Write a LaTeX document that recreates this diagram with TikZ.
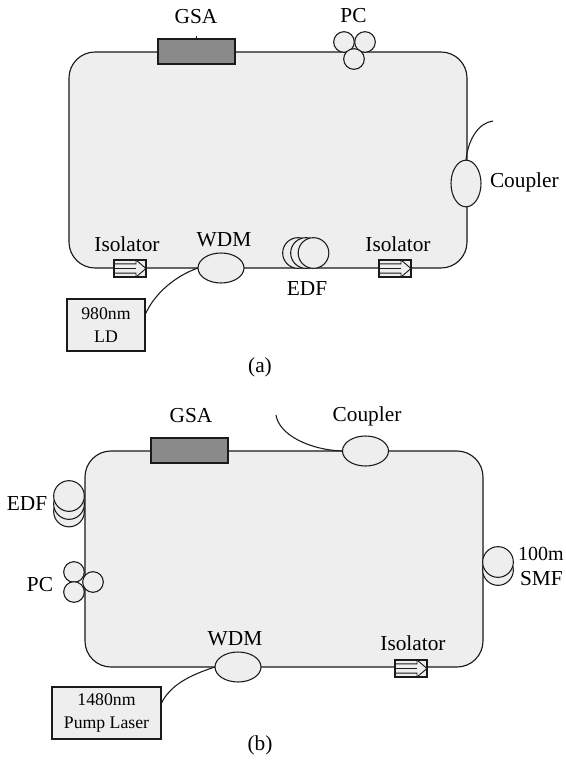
\documentclass[tikz,border=0pt]{standalone}
\usepackage{fontspec}
\usetikzlibrary{shapes.geometric}
\setmainfont{Liberation Serif}
\definecolor{panel}{HTML}{EEEEEE}
\definecolor{absorb}{HTML}{8A8A8A}
\definecolor{ink}{HTML}{1A1A1A}
\tikzset{
  every node/.style={inner sep=0pt,outer sep=0pt},
  loopline/.style={draw=ink,fill=panel,line width=0.85pt,rounded corners=19.5pt},
  fibre/.style={draw=ink,line width=0.8pt},
  oval/.style={ellipse,draw=ink,fill=panel,line width=0.8pt,minimum width=34.5pt,minimum height=22.5pt},
  tall/.style={ellipse,draw=ink,fill=panel,line width=0.8pt,minimum width=22.5pt,minimum height=35pt},
  gsabox/.style={rectangle,draw=ink,fill=absorb,line width=0.85pt,minimum width=57.75pt,minimum height=18.75pt},
  sourcebox/.style={rectangle,draw=ink,fill=panel,line width=0.85pt,align=center,font=\fontsize{13.3}{17.5}\selectfont},
  coilring/.style={circle,draw=ink,fill=panel,line width=0.8pt,minimum size=23pt},
  pcring/.style={circle,draw=ink,fill=panel,line width=0.8pt,minimum size=15.5pt},
  isobox/.style={rectangle,draw=ink,fill=panel,line width=0.8pt,minimum width=24pt,minimum height=12.75pt},
  lab/.style={font=\fontsize{16}{19}\selectfont},
  smalllab/.style={font=\fontsize{15}{18}\selectfont},
}
\newcommand{\isolator}[3]{%
  \node[isobox] (#1) at (#2,#3) {};
  \draw[ink,line width=0.7pt] (#1.west)++(0,3.5pt) -- ++(16.5pt,0) -- ++(0,2.9pt) -- (#1.east) -- ++(-7.5pt,-6.4pt) -- ++(0,2.9pt) -- ++(-16.5pt,0);
  \draw[ink,line width=0.6pt] (#1.west) -- ++(16.5pt,0);
}
\begin{document}
\begin{tikzpicture}[x=0.75pt,y=-0.75pt]
\useasboundingbox (0,0) rectangle (566,760);
\fill[white] (0,0) rectangle (566,760);

% (a)
\draw[loopline] (69,52) rectangle (467,268);
\draw[draw=ink,line width=0.4pt] (196,39) -- (196,36);
\node[gsabox] (gsaA) at (196.5,51.5) {};
\node[pcring] (pcA1) at (344,42) {};
\node[pcring] (pcA2) at (365,42) {};
\node[pcring] (pcA3) at (354,59) {};
\node[tall] (cplA) at (466,183.5) {};
\coordinate (cplAout) at (493,121);
\draw[fibre] (cplA.north) .. controls (468,140) and (478,123) .. (cplAout);
\isolator{isoA1}{130}{268.5}
\isolator{isoA2}{395}{268.5}
\node[oval] (wdmA) at (221,268) {};
\node[coilring] (edfA1) at (298,253) {};
\node[coilring] (edfA2) at (306,253) {};
\node[coilring] (edfA3) at (313.5,253) {};
\node[sourcebox,minimum width=58.5pt,minimum height=39pt] (ldA) at (106,325) {980nm\\LD};
\coordinate (ldAout) at (145,315);
\draw[fibre] (ldAout) .. controls (154,294) and (175,276) .. (wdmA.west);
\node[lab] at (196,17) (tGsaA) {GSA};
\node[lab] at (353.5,16) (tPcA) {PC};
\node[lab,anchor=west] at (490,182) (tCplA) {Coupler};
\node[lab] at (127,244) (tIsoA1) {Isolator};
\node[lab] at (398,244) (tIsoA2) {Isolator};
\node[lab] at (224,240) (tWdmA) {WDM};
\node[lab] at (307,289) (tEdfA) {EDF};
\node[lab] at (260,367) (tA) {(a)};

% (b)
\draw[loopline] (85,451) rectangle (483,667);
\node[gsabox] (gsaB) at (189.5,450.5) {};
\node[oval] (cplB) at (365.5,451) {};
\coordinate (cplBout) at (276,415);
\draw[fibre] (cplBout) .. controls (279,435) and (310,450) .. (cplB.west);
\node[coilring] (edfB1) at (69,511.5) {};
\node[coilring] (edfB2) at (69,504) {};
\node[coilring] (edfB3) at (69,496) {};
\node[pcring] (pcB1) at (74,572) {};
\node[pcring] (pcB2) at (74,592) {};
\node[pcring] (pcB3) at (93,582) {};
\node[coilring] (smfB1) at (498,570) {};
\node[coilring] (smfB2) at (498,562) {};
\isolator{isoB}{411}{668.5}
\node[oval] (wdmB) at (238,667) {};
\node[sourcebox,minimum width=81.75pt,minimum height=39pt] (ldB) at (106.5,713) {1480nm\\Pump Laser};
\coordinate (ldBout) at (161,704);
\draw[fibre] (ldBout) .. controls (170,685) and (190,675) .. (wdmB.west);
\node[lab] at (191,416) (tGsaB) {GSA};
\node[lab] at (367,416) (tCplB) {Coupler};
\node[lab] at (27,504) (tEdfB) {EDF};
\node[lab] at (40,585) (tPcB) {PC};
\node[smalllab,anchor=west] at (518,554) (t100) {100m};
\node[lab,anchor=west] at (520,579) (tSmf) {SMF};
\node[lab] at (413,643) (tIsoB) {Isolator};
\node[lab] at (235,639) (tWdmB) {WDM};
\node[lab] at (260,745) (tB) {(b)};
\end{tikzpicture}
\end{document}
